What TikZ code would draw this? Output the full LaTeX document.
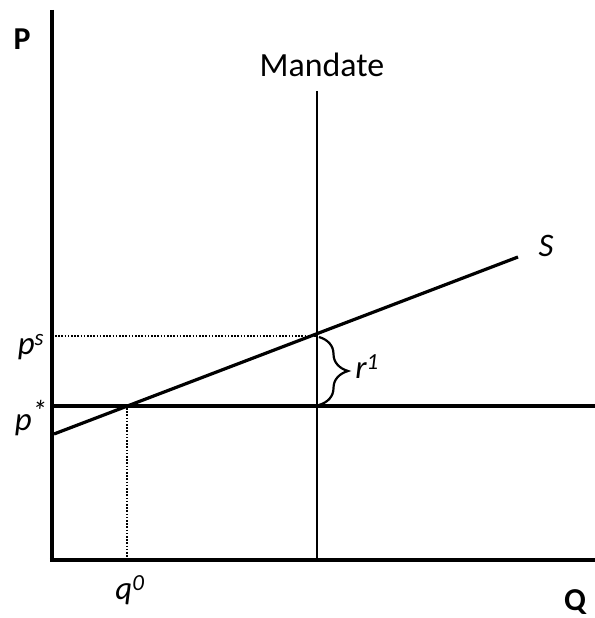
\documentclass[tikz,border=0pt]{standalone}
\usepackage{fontspec}
\setmainfont{Carlito}
\usetikzlibrary{decorations.pathreplacing}
\begin{document}
\begin{tikzpicture}[x=1bp,y=-1bp,
  lbl/.style={inner sep=0pt,anchor=base,font=\fontsize{33}{38}\selectfont},
  axis/.style={line width=4.2bp},
  curve/.style={line width=3.2bp},
  dots/.style={line width=1.7bp,dash pattern=on 1.6bp off 1.6bp}]
\useasboundingbox (0,0) rectangle (595,618);
% axes
\coordinate (ytop) at (52,10);
\coordinate (orig) at (52,560);
\coordinate (xend) at (595,560);
\draw[axis] (ytop) -- (52,562.1);
\draw[axis] (49.9,560) -- (xend);
% p* line
\coordinate (pstarL) at (54,406);
\coordinate (pstarR) at (595,406);
\draw[curve] (pstarL) -- (pstarR);
% mandate
\coordinate (mtop) at (317,91);
\coordinate (mbot) at (317,560);
\draw[line width=2.6bp] (mtop) -- (mbot);
% supply
\coordinate (s0) at (54,434);
\coordinate (s1) at (518,257);
\draw[curve] (s0) -- (s1);
% dotted guides
\coordinate (psL) at (55,336);
\coordinate (psR) at (317,336);
\draw[dots] (psL) -- (psR);
\coordinate (q0t) at (127,408);
\coordinate (q0b) at (127,558);
\draw[dots] (q0t) -- (q0b);
% brace
\coordinate (bt) at (319,337);
\coordinate (bb) at (319,405);
\draw[line width=2.2bp,decorate,decoration={brace,amplitude=29bp}] (bt) -- (bb);
% labels
\node[lbl,font=\fontsize{32}{38}\selectfont\bfseries] (P) at (22,50) {P};
\node[lbl,font=\fontsize{32}{38}\selectfont\bfseries] (Q) at (575,610) {Q};
\node[lbl,font=\fontsize{34}{40}\selectfont] (M) at (322,77) {Mandate};
\node[lbl] (S) at (546,256) {\itshape S};
\node[lbl] (ps) at (31,354) {\itshape p\textsuperscript{s}};
\node[lbl] (pst) at (31,430) {\itshape p\textsuperscript{\fontsize{30}{30}\selectfont *}};
\node[lbl] (r1) at (367,378) {\itshape r\textsuperscript{1}};
\node[lbl] (q0) at (130,599) {\itshape q\textsuperscript{0}};
\end{tikzpicture}
\end{document}
